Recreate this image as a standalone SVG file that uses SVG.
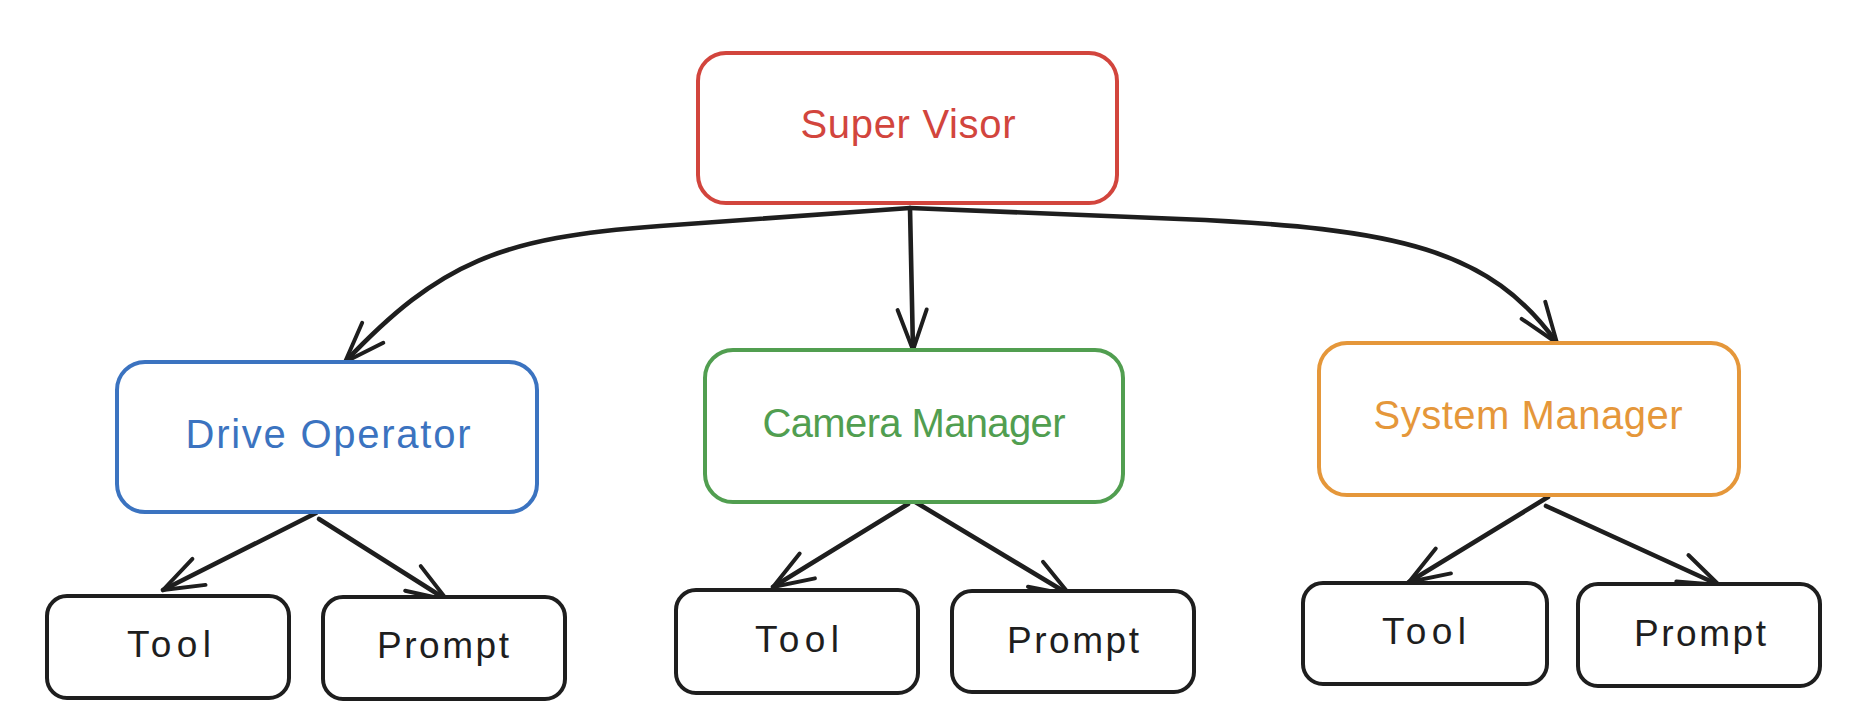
<svg xmlns="http://www.w3.org/2000/svg" width="1866" height="728" viewBox="0 0 1866 728">
<style>
  .box { fill: #ffffff; stroke-width: 4; stroke-linejoin: round; }
  .lbl { font-family: "Liberation Sans", Arial, sans-serif; font-size: 40px; text-anchor: middle; }
  .sub { font-family: "Liberation Sans", Arial, sans-serif; font-size: 37px; text-anchor: middle; fill: #1e1e1e; }
  .red { stroke: #d2453d; } .redt { fill: #d2453d; }
  .blue { stroke: #3b73c0; } .bluet { fill: #3b73c0; }
  .green { stroke: #519e50; } .greent { fill: #519e50; }
  .orange { stroke: #e5973a; } .oranget { fill: #e5973a; }
  .black { stroke: #1e1e1e; }
  .conn { fill: none; stroke: #1e1e1e; stroke-width: 4.6; stroke-linecap: round; stroke-linejoin: round; marker-end: url(#arrow); }
</style>
<defs>
  <marker id="arrow" markerUnits="userSpaceOnUse" markerWidth="60" markerHeight="60" refX="0" refY="0" orient="auto" overflow="visible" viewBox="-60 -30 70 60">
    <path d="M -47 -17 L 0 0 L -47 17" fill="none" stroke="#1e1e1e" stroke-width="4.6" stroke-linecap="round" stroke-linejoin="round"/>
  </marker>
</defs>
<rect width="1866" height="728" fill="#ffffff"/>

<g id="connectors">
  <path class="conn" d="M 910 208 L 660 226 C 500 237.5, 440 262, 345 362"/>
  <path class="conn" d="M 910 208 L 913 350"/>
  <path class="conn" d="M 910 208 L 1180 219 C 1400 228, 1490 250, 1557 343"/>
  <path class="conn" d="M 316 513 L 163 590"/>
  <path class="conn" d="M 319 519 L 447 600"/>
  <path class="conn" d="M 908 504 L 773 587"/>
  <path class="conn" d="M 907 497 L 1070 595"/>
  <path class="conn" d="M 1548 497 L 1409 582"/>
  <path class="conn" d="M 1546 506 L 1719 585"/>
</g>

<g id="supervisor">
  <rect class="box red" x="698" y="53" width="419" height="150" rx="28"/>
  <text class="lbl redt" x="908" y="138" textLength="215" lengthAdjust="spacing">Super Visor</text>
</g>
<g id="drive-operator">
  <rect class="box blue" x="117" y="362" width="420" height="150" rx="28"/>
  <text class="lbl bluet" x="328" y="448" textLength="285" lengthAdjust="spacing">Drive Operator</text>
</g>
<g id="camera-manager">
  <rect class="box green" x="705" y="350" width="418" height="152" rx="28"/>
  <text class="lbl greent" x="914" y="437" textLength="303" lengthAdjust="spacing">Camera Manager</text>
</g>
<g id="system-manager">
  <rect class="box orange" x="1319" y="343" width="420" height="152" rx="28"/>
  <text class="lbl oranget" x="1528" y="429" textLength="309" lengthAdjust="spacing">System Manager</text>
</g>

<g id="tool-1">
  <rect class="box black" x="47" y="596" width="242" height="102" rx="20"/>
  <text class="sub" x="169" y="657" textLength="84" lengthAdjust="spacing">Tool</text>
</g>
<g id="prompt-1">
  <rect class="box black" x="323" y="597" width="242" height="102" rx="20"/>
  <text class="sub" x="443" y="658" textLength="132" lengthAdjust="spacing">Prompt</text>
</g>
<g id="tool-2">
  <rect class="box black" x="676" y="590" width="242" height="103" rx="20"/>
  <text class="sub" x="797" y="652" textLength="84" lengthAdjust="spacing">Tool</text>
</g>
<g id="prompt-2">
  <rect class="box black" x="952" y="591" width="242" height="101" rx="20"/>
  <text class="sub" x="1073" y="653" textLength="132" lengthAdjust="spacing">Prompt</text>
</g>
<g id="tool-3">
  <rect class="box black" x="1303" y="583" width="244" height="101" rx="20"/>
  <text class="sub" x="1424" y="644" textLength="84" lengthAdjust="spacing">Tool</text>
</g>
<g id="prompt-3">
  <rect class="box black" x="1578" y="584" width="242" height="102" rx="20"/>
  <text class="sub" x="1700" y="646" textLength="132" lengthAdjust="spacing">Prompt</text>
</g>
</svg>
